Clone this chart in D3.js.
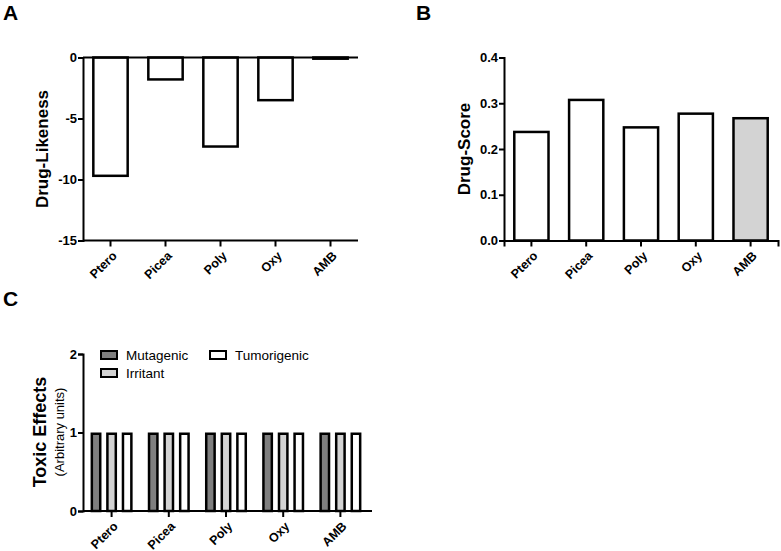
<!DOCTYPE html>
<html><head><meta charset="utf-8">
<script src="https://cdn.jsdelivr.net/npm/d3@7"></script>
<style>
body{margin:0;background:#fff;}
svg{font-family:"Liberation Sans",Arial,sans-serif;}
</style></head>
<body><svg id="c" width="781" height="551"></svg>
<script>
const categories = ["Ptero","Picea","Poly","Oxy","AMB"];
const drugLikeness = [-9.8,-1.9,-7.4,-3.6,-0.2];
const drugScore = [0.24,0.31,0.25,0.28,0.27];
const toxKeys = ["Mutagenic","Irritant","Tumorigenic"];
const mutagenic = [1,1,1,1,1];
const irritant = [1,1,1,1,1];
const tumorigenic = [1,1,1,1,1];
const ticksA = [0,-5,-10,-15];
const ticksB = [0,0.1,0.2,0.3,0.4];
const ticksC = [0,1,2];
const toxColors = {"Mutagenic":"#7f7f7f","Irritant":"#d3d3d3","Tumorigenic":"#ffffff"};

const svg = d3.select("#c");
const SW = 2.5;

function styleAxis(g){
  g.select(".domain").attr("stroke","#000").attr("stroke-width",2);
  g.selectAll(".tick line").attr("stroke","#000").attr("stroke-width",2);
  g.selectAll(".tick text").attr("font-weight","bold").attr("font-size","13px").attr("fill","#000");
}
function xLabels(g){
  g.selectAll(".tick").each(function(){
    const t = d3.select(this);
    const txt = t.select("text").text();
    t.select("text").remove();
    t.append("g").attr("transform","translate(4,13) rotate(-45)")
      .append("text").attr("text-anchor","end").attr("x",0).attr("y",0).attr("dy","0.35em")
      .attr("font-weight","bold").attr("font-size","12.5px").attr("fill","#000").text(txt);
  });
}
function panelLabel(x,y,t){
  svg.append("text").attr("x",x).attr("y",y).text(t)
    .attr("font-size","21px").attr("font-weight","bold");
}
function yTitle(x,y,t,fs,bold){
  svg.append("text").attr("transform",`translate(${x},${y}) rotate(-90)`)
    .attr("text-anchor","middle").attr("font-size",fs).attr("font-weight",bold?"bold":"normal").text(t);
}

// Panel A
{
  const x = d3.scaleBand().domain(categories).range([83,358]).paddingInner(0.33).paddingOuter(0.165);
  const y = d3.scaleLinear().domain([-15,0]).range([240.5,57.5]);
  svg.append("g").selectAll("rect").data(categories).join("rect")
    .attr("x",(d)=>x(d)+SW/2).attr("width",x.bandwidth()-SW)
    .attr("y",y(0)).attr("height",(d,i)=>Math.max(0.5,y(drugLikeness[i])-y(0)-SW/2))
    .attr("fill","#fff").attr("stroke","#000").attr("stroke-width",SW);
  svg.append("line").attr("x1",83).attr("x2",358).attr("y1",y(0)).attr("y2",y(0)).attr("stroke","#000").attr("stroke-width",2);
  const gx = svg.append("g").attr("transform",`translate(0,${y(-15)})`)
    .call(d3.axisBottom(x).tickSizeOuter(0).tickSize(6).tickPadding(4));
  gx.select(".domain").attr("d","M83,0H358");
  styleAxis(gx); xLabels(gx);
  const gy = svg.append("g").attr("transform","translate(83,0)")
    .call(d3.axisLeft(y).tickValues(ticksA).tickFormat(d=>String(d)).tickSizeOuter(0).tickSize(5).tickPadding(1));
  styleAxis(gy);
  yTitle(48,149,"Drug-Likeness","17px",true);
  panelLabel(3,20,"A");
}
// Panel B
{
  const x = d3.scaleBand().domain(categories).range([504,778]).paddingInner(0.33).paddingOuter(0.165);
  const y = d3.scaleLinear().domain([0,0.4]).range([240.5,57.5]);
  svg.append("g").selectAll("rect").data(categories).join("rect")
    .attr("x",(d)=>x(d)+SW/2).attr("width",x.bandwidth()-SW)
    .attr("y",(d,i)=>y(drugScore[i])+SW/2).attr("height",(d,i)=>y(0)-y(drugScore[i])-SW/2)
    .attr("fill",(d,i)=>i===4?"#d3d3d3":"#fff").attr("stroke","#000").attr("stroke-width",SW);
  const gx = svg.append("g").attr("transform",`translate(0,${y(0)})`)
    .call(d3.axisBottom(x).tickSizeOuter(0).tickSize(6).tickPadding(4));
  styleAxis(gx); xLabels(gx);
  const gy = svg.append("g").attr("transform","translate(504,0)")
    .call(d3.axisLeft(y).tickValues(ticksB).tickFormat(d3.format(".1f")).tickSizeOuter(0).tickSize(5).tickPadding(1));
  styleAxis(gy);
  yTitle(470,149,"Drug-Score","17px",true);
  panelLabel(416,20,"B");
}
// Panel C
{
  const x = d3.scaleBand().domain(categories).range([83,369]).paddingInner(0.265).paddingOuter(0.1325);
  const xs = d3.scaleBand().domain(toxKeys).range([0,x.bandwidth()]).paddingInner(0.3);
  const y = d3.scaleLinear().domain([0,2]).range([511,354]);
  const vals = {"Mutagenic":mutagenic,"Irritant":irritant,"Tumorigenic":tumorigenic};
  const data = [];
  categories.forEach((c,i)=>toxKeys.forEach(k=>data.push({c,k,v:vals[k][i]})));
  svg.append("g").selectAll("rect").data(data).join("rect")
    .attr("x",d=>x(d.c)+xs(d.k)+SW/2).attr("width",xs.bandwidth()-SW)
    .attr("y",d=>y(d.v)+SW/2).attr("height",d=>y(0)-y(d.v)-SW/2)
    .attr("fill",d=>toxColors[d.k]).attr("stroke","#000").attr("stroke-width",SW);
  const gx = svg.append("g").attr("transform",`translate(0,${y(0)})`)
    .call(d3.axisBottom(x).tickSizeOuter(0).tickSize(6).tickPadding(4));
  gx.select(".domain").attr("d","M83,0H372");
  styleAxis(gx); xLabels(gx);
  const gy = svg.append("g").attr("transform","translate(83,0)")
    .call(d3.axisLeft(y).tickValues(ticksC).tickFormat(d3.format("d")).tickSizeOuter(0).tickSize(5).tickPadding(1));
  styleAxis(gy);
  yTitle(46,432,"Toxic Effects","18px",true);
  yTitle(64,432,"(Arbitrary units)","13px",false);
  panelLabel(3,306,"C");
  const leg = [{k:"Mutagenic",x:101,y:351},{k:"Irritant",x:101,y:369},{k:"Tumorigenic",x:210,y:351}];
  const lg = svg.append("g");
  leg.forEach(l=>{
    lg.append("rect").attr("x",l.x).attr("y",l.y).attr("width",16).attr("height",8)
      .attr("fill",toxColors[l.k]).attr("stroke","#000").attr("stroke-width",2);
    lg.append("text").attr("x",l.x+25).attr("y",l.y+9).attr("font-size","13.5px").text(l.k);
  });
}
</script></body></html>
